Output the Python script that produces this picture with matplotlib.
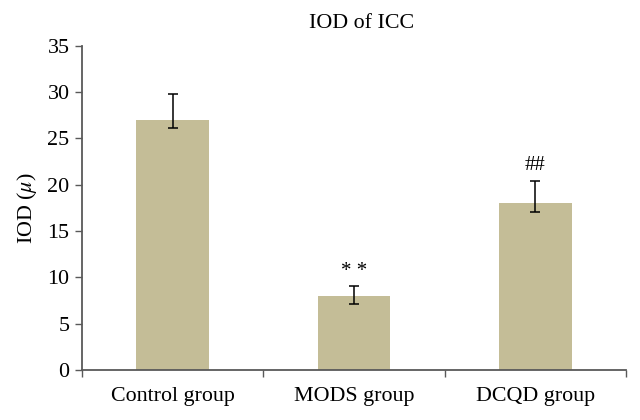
import matplotlib
matplotlib.use("Agg")
import matplotlib.pyplot as plt
import numpy as np

categories = ["Control group", "MODS group", "DCQD group"]
values = [27.0, 8.0, 18.0]
err_upper = [29.8, 9.1, 20.4]
err_lower = [26.1, 7.1, 17.1]
marks = ["", "* *", "##"]
mark_y = [None, 10.6, 22.1]
yticks = [0, 5, 10, 15, 20, 25, 30, 35]

plt.rcParams['font.family'] = ['Liberation Serif', 'DejaVu Serif']
plt.rcParams['mathtext.fontset'] = 'stix'

FS = 15.8

fig = plt.figure(figsize=(6.4, 4.2), dpi=100)
ax = fig.add_axes([82/640, 50/420, (626-82)/640, (370-45.7)/420])

x = np.arange(len(categories))
v = np.array(values)
yerr = np.array([v - np.array(err_lower), np.array(err_upper) - v])
ax.bar(x, v, width=0.4, color="#C4BD97", zorder=2)
ax.errorbar(x, v, yerr=yerr, fmt="none", ecolor="black", elinewidth=1.1,
            capsize=3.3, capthick=1.1, zorder=3)

for xi, m, my in zip(x, marks, mark_y):
    if m:
        ax.text(xi, my, m, ha="center", va="center", fontsize=15)

ax.set_xlim(-0.5, 2.5)
ax.set_ylim(0, 35)
ax.set_yticks(yticks)
ax.set_yticklabels([str(t) for t in yticks], fontsize=FS)
ax.set_xticks(x)
ax.set_xticklabels(categories, fontsize=FS)
ax.set_xticks([-0.5, 0.5, 1.5, 2.5], minor=True)
ax.tick_params(axis="x", which="major", length=0, pad=12)
ax.tick_params(axis="x", which="minor", length=5, width=1, color="#595959", direction="out")
ax.tick_params(axis="y", length=5, width=1, color="#595959", direction="out", pad=4)

for s in ["top", "right"]:
    ax.spines[s].set_visible(False)
for s in ["left", "bottom"]:
    ax.spines[s].set_color("#595959")
    ax.spines[s].set_linewidth(1.3)

ax.set_ylabel(r"IOD ($\mu$)", fontsize=FS, labelpad=6)
fig.text(362/640, 1 - 23/420, "IOD of ICC", ha="center", va="center", fontsize=FS)

fig.savefig("out.png", dpi=100)
